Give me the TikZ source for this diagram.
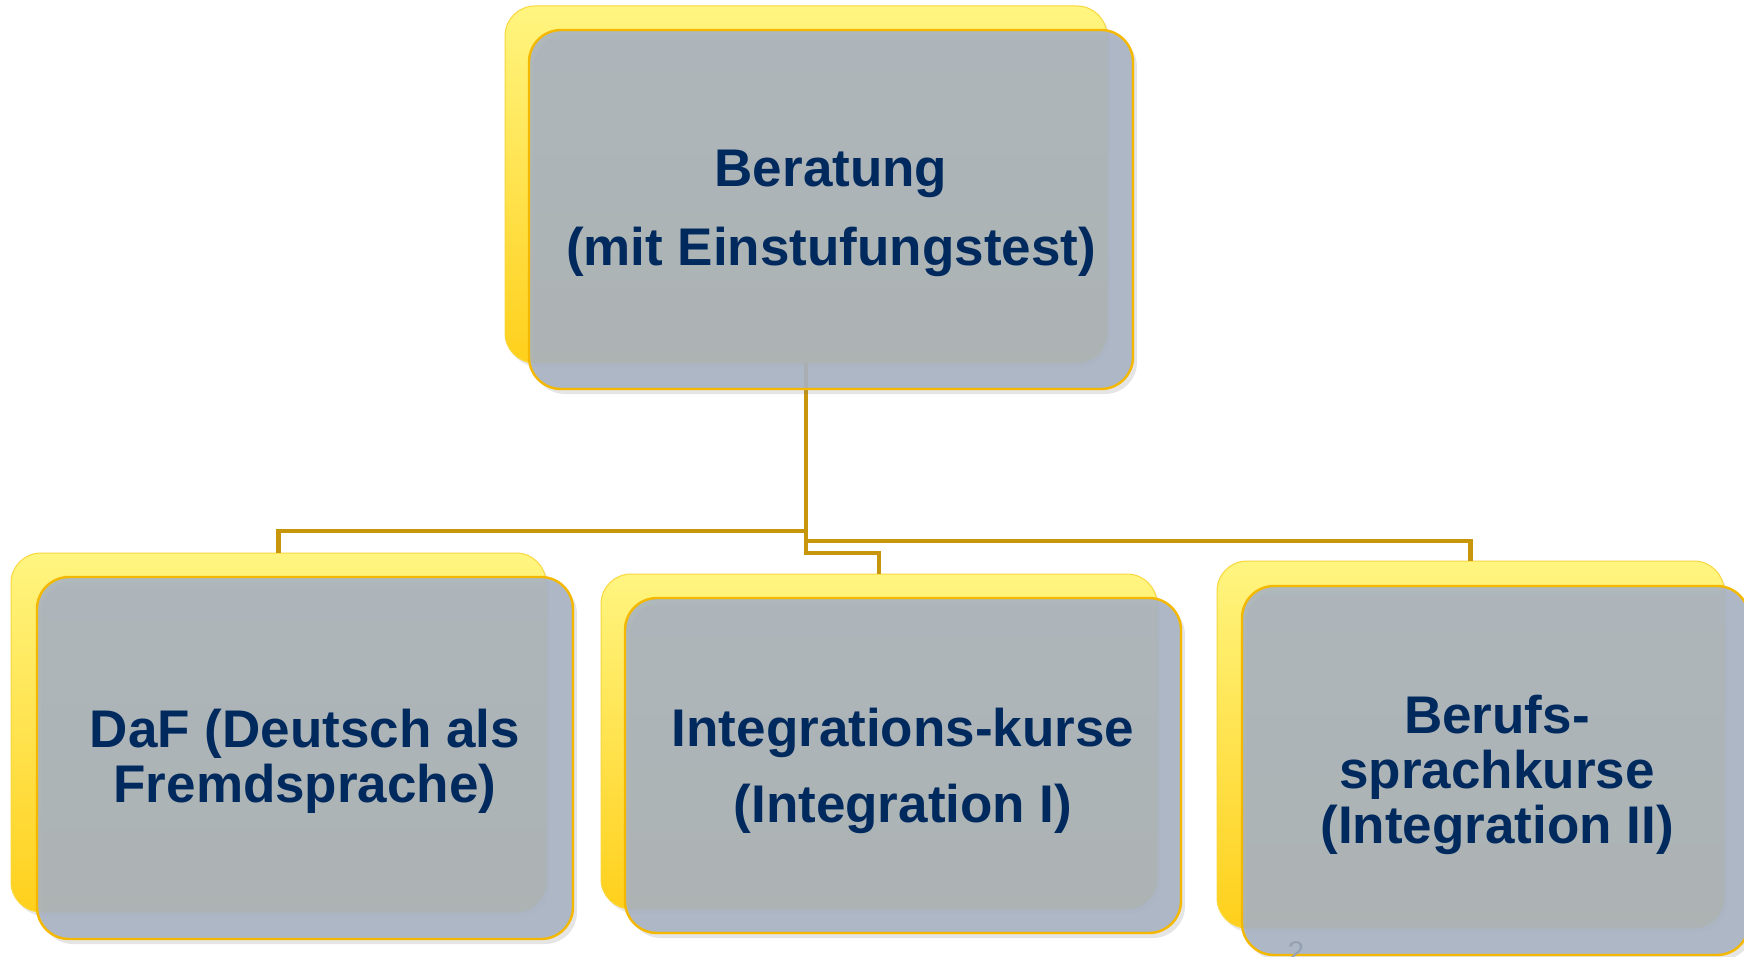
\documentclass[tikz,border=0pt]{standalone}
\usepackage{fontspec}
\setmainfont{Liberation Sans}
\usetikzlibrary{shadows}

\definecolor{ytop}{RGB}{255,245,128}
\definecolor{ybot}{RGB}{255,208,28}
\definecolor{yedge}{RGB}{250,215,60}
\definecolor{gfill}{RGB}{167,178,194}
\definecolor{gborder}{RGB}{245,184,0}
\definecolor{conncol}{RGB}{200,150,10}
\definecolor{txtcol}{RGB}{0,41,94}
\definecolor{numcol}{RGB}{150,162,180}

\begin{document}
\begin{tikzpicture}[x=0.5pt,y=-0.5pt,
  back/.style={rounded corners=15pt, top color=ytop, bottom color=ybot,
    draw=yedge, line width=0.5pt, inner sep=0pt, outer sep=0pt,
    drop shadow={opacity=0.18, shadow xshift=1.5pt, shadow yshift=-2pt}},
  front/.style={rounded corners=16pt, fill=gfill, fill opacity=0.9,
    draw=gborder, draw opacity=1, line width=1.2pt, inner sep=0pt, outer sep=0pt,
    drop shadow={opacity=0.2, shadow xshift=2pt, shadow yshift=-2.5pt}},
  lbl/.style={font=\bfseries\fontsize{26.5pt}{30pt}\selectfont, text=txtcol,
    anchor=base, inner sep=0pt},
  conn/.style={draw=conncol, line width=2.2pt, line join=miter}]

\useasboundingbox (0,0) rectangle (1744,957);
\fill[white] (0,0) rectangle (1744,957);

% back (yellow) boxes
\node[back, minimum width=301pt, minimum height=178.5pt] (tY) at (806,184.5) {};
\node[back, minimum width=267.5pt, minimum height=179.5pt] (aY) at (278.5,732.5) {};
\node[back, minimum width=278pt, minimum height=167.5pt] (bY) at (879,741.5) {};
\node[back, minimum width=253.5pt, minimum height=183.5pt] (cY) at (1470.5,744.5) {};

% connectors
\coordinate (jA) at (806,531);
\coordinate (jC) at (806,541);
\coordinate (jB) at (806,553);
\draw[conn] (tY.south) -- (jA) -| (aY.north);
\draw[conn] (tY.south) -- (jC) -| (cY.north);
\draw[conn] (tY.south) -- (jB) -| (bY.north);

% front (grey) boxes
\node[front, minimum width=302pt, minimum height=179.5pt] (tG) at (831,209.5) {};
\node[front, minimum width=268pt, minimum height=181pt] (aG) at (305,758) {};
\node[front, minimum width=278pt, minimum height=167.5pt] (bG) at (903,765.5) {};
\node[front, minimum width=253.5pt, minimum height=184.5pt] (cG) at (1495.5,770.5) {};

% texts
\node[lbl] (t1) at (831,187) {Beratung};
\node[lbl] (t2) at (831,265) {(mit Einstufungstest)};
\node[lbl] (a1) at (305,747) {DaF (Deutsch als};
\node[lbl] (a2) at (305,802) {Fremdsprache)};
\node[lbl] (b1) at (903,746) {Integrations-kurse};
\node[lbl] (b2) at (903,822) {(Integration I)};
\node[lbl] (c1) at (1497,733) {Berufs-};
\node[lbl] (c2) at (1497,788) {sprachkurse};
\node[lbl] (c3) at (1497,843) {(Integration II)};
\node[font=\fontsize{15pt}{18pt}\selectfont, text=numcol, anchor=base, inner sep=0pt] (num) at (1296,962) {2};
\end{tikzpicture}
\end{document}
